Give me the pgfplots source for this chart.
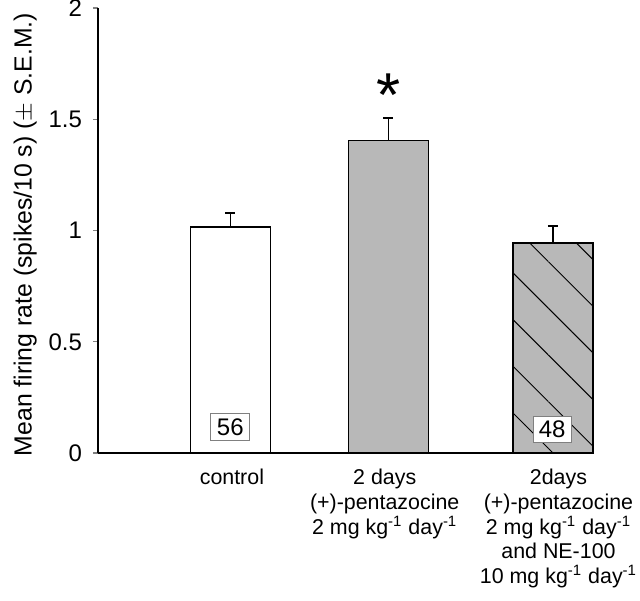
\documentclass[border=0pt]{standalone}
\usepackage{fontspec}
\setmainfont{Liberation Sans}
\usepackage{pgfplots}
\pgfplotsset{compat=1.18}
\usetikzlibrary{patterns.meta}
\definecolor{bargray}{gray}{0.72}
\begin{document}
\begin{tikzpicture}
\begin{axis}[
  scale only axis, width=247.5pt, height=222.5pt,
  xmin=0.18, xmax=3.248, ymin=0, ymax=2,
  axis x line=bottom, axis y line=left,
  axis line style={-, line width=0.8pt},
  ytick={0,0.5,1,1.5,2},
  yticklabels={0,0.5,1,1.5,2},
  tick align=outside, major tick length=2.5pt,
  ytick style={line width=0.6pt},
  yticklabel style={font=\fontsize{12}{12}\selectfont, xshift=-2pt},
  xtick={1.01,1.957,3.034},
  xtick style={draw=none},
  xticklabels={control,
    {2 days\\(+)-pentazocine\\2 mg kg\textsuperscript{-1} day\textsuperscript{-1}},
    {2days\\(+)-pentazocine\\2 mg kg\textsuperscript{-1} day\textsuperscript{-1}\\and NE-100\\10 mg kg\textsuperscript{-1} day\textsuperscript{-1}}},
  xticklabel style={align=center, anchor=north, font=\fontsize{10.7}{12.4}\selectfont, yshift=-2pt},
  ylabel={Mean firing rate (spikes/10 s) ($\pm$ S.E.M.)},
  ylabel style={font=\fontsize{12.4}{12.4}\selectfont, yshift=-1pt, xshift=-2pt},
  clip=false,
]
\addplot[ybar, bar width=40pt, bar shift=0pt, fill=white, draw=black, line width=0.8pt,
  error bars/.cd, y dir=plus, y explicit, error mark=|,
  error bar style={line width=0.8pt}, error mark options={line width=0.8pt, mark size=2.5pt}]
  coordinates {(1,1.015) +- (0,0.065)};
\addplot[ybar, bar width=40pt, bar shift=0pt, fill=bargray, draw=black, line width=0.8pt,
  error bars/.cd, y dir=plus, y explicit, error mark=|,
  error bar style={line width=0.8pt}, error mark options={line width=0.8pt, mark size=2.5pt}]
  coordinates {(1.98,1.405) +- (0,0.100)};
\addplot[ybar, bar width=40pt, bar shift=0pt, fill=bargray, draw=black, line width=0.8pt,
  postaction={pattern={Lines[angle=-45, distance=16.5pt, line width=0.5pt]}, pattern color=black}]
  coordinates {(3,0.944)};
\addplot[ybar, bar width=40pt, bar shift=0pt, fill=none, draw=black, line width=0.8pt,
  error bars/.cd, y dir=plus, y explicit, error mark=|,
  error bar style={line width=0.8pt}, error mark options={line width=0.8pt, mark size=2.5pt}]
  coordinates {(3,0.944) +- (0,0.076)};
\node[draw=gray, fill=white, inner sep=1pt, minimum width=19.5pt, minimum height=13.5pt,
  font=\fontsize{12}{12}\selectfont] at (axis cs:1.0,0.117) {56};
\node[draw=gray, fill=white, inner sep=1pt, minimum width=19pt, minimum height=13pt,
  font=\fontsize{12}{12}\selectfont] at (axis cs:2.995,0.108) {48};
\node[anchor=north, inner sep=0pt, font=\fontsize{31}{31}\selectfont] at (axis cs:1.98,1.708) {*};
\end{axis}
\pgfresetboundingbox
\path (current axis.south west) ++(-49pt,-73.5pt) rectangle ++(320pt,300pt);
\end{tikzpicture}
\end{document}
